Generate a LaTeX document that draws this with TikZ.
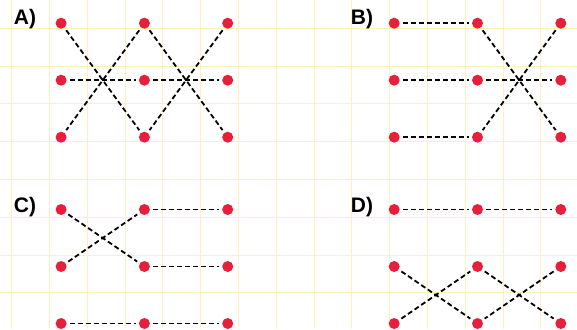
\documentclass[tikz,border=0pt]{standalone}
\usepackage{fontspec}
\setmainfont{Liberation Sans}
\usetikzlibrary{matrix,positioning}

\definecolor{dotred}{RGB}{232,30,58}
\definecolor{gridyellow}{RGB}{255,241,190}

\begin{document}
\begin{tikzpicture}[
    x=1pt, y=-1pt,
    grp/.style={matrix of nodes, nodes in empty cells, column sep=72.3pt, row sep=46pt,
        nodes={circle, fill=dotred, inner sep=0pt, minimum size=11pt}},
    lnk/.style={dash pattern=on 5pt off 3pt, line width=1.8pt, shorten <=3pt, shorten >=3pt},
    lbl/.style={font=\bfseries\fontsize{21}{21}\selectfont, inner sep=0pt},
    gridline/.style={gridyellow, line width=1.1pt}
]
    \useasboundingbox (0,0) rectangle (577,329);
    \fill[white] (0,0) rectangle (577,329);

    % Paper grid
    \foreach \k in {0,...,15}
        \draw[gridline] ({11.7+37.8*\k},0) -- ++(0,329);
    \foreach \k in {0,...,8}
        \draw[gridline] (0,{28.3+37.8*\k}) -- ++(577,0);

    % Dot groups
    \matrix (A) [grp] at (144.4,80.2) {
        & & \\
        & & \\
        & & \\
    };
    \matrix (B) [grp] at (477.5,80.2) {
        & & \\
        & & \\
        & & \\
    };
    \matrix (C) [grp] at (144.4,266.5) {
        & & \\
        & & \\
        & & \\
    };
    \matrix (D) [grp] at (477.5,266.5) {
        & & \\
        & & \\
        & & \\
    };

    % Names
    \node[lbl] (aname) at (25,19) {A)};
    \node[lbl] (bname) at (362,19) {B)};
    \node[lbl] (cname) at (25,207) {C)};
    \node[lbl] (dname) at (362,207) {D)};

    % Links A
    \draw[lnk] (A-1-1) -- (A-3-2);
    \draw[lnk] (A-1-2) -- (A-3-1);
    \draw[lnk] (A-1-2) -- (A-3-3);
    \draw[lnk] (A-1-3) -- (A-3-2);
    \draw[lnk] (A-2-1) -- (A-2-2);
    \draw[lnk] (A-2-2) -- (A-2-3);

    % Links B
    \draw[lnk] (B-1-1) -- (B-1-2);
    \draw[lnk] (B-1-2) -- (B-3-3);
    \draw[lnk] (B-1-3) -- (B-3-2);
    \draw[lnk] (B-2-1) -- (B-2-2);
    \draw[lnk] (B-2-2) -- (B-2-3);
    \draw[lnk] (B-3-1) -- (B-3-2);

    % Links C
    \draw[lnk] (C-1-1) -- (C-2-2);
    \draw[lnk] (C-2-1) -- (C-1-2);
    \draw[lnk] (C-1-2) -- (C-1-3);
    \draw[lnk] (C-2-2) -- (C-2-3);
    \draw[lnk] (C-3-1) -- (C-3-2);
    \draw[lnk] (C-3-2) -- (C-3-3);

    % Links D
    \draw[lnk] (D-1-1) -- (D-1-2);
    \draw[lnk] (D-1-2) -- (D-1-3);
    \draw[lnk] (D-2-1) -- (D-3-2);
    \draw[lnk] (D-3-1) -- (D-2-2);
    \draw[lnk] (D-2-2) -- (D-3-3);
    \draw[lnk] (D-2-3) -- (D-3-2);
\end{tikzpicture}
\end{document}
